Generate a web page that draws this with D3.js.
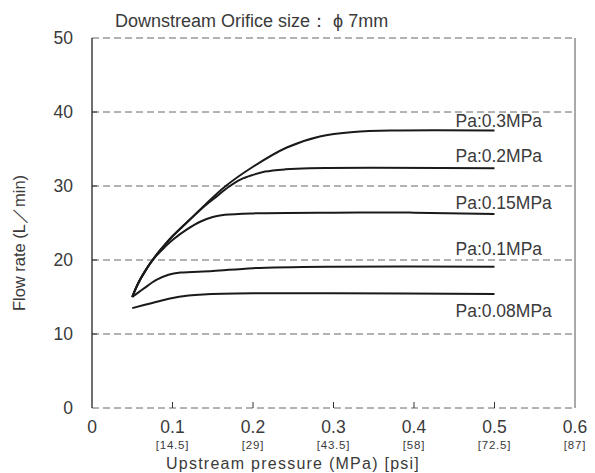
<!DOCTYPE html>
<html>
<head>
<meta charset="utf-8">
<script src="https://cdn.jsdelivr.net/npm/d3@7"></script>
<style>
  body { margin: 0; background: #fff; }
  svg text { font-family: "Liberation Sans", Arial, sans-serif; fill: #3a3a3a; }
</style>
</head>
<body>
<script>
const title = "Downstream Orifice size： ϕ 7mm";
const xTicks = [0, 0.1, 0.2, 0.3, 0.4, 0.5, 0.6];
const psiTicks = ["", "[14.5]", "[29]", "[43.5]", "[58]", "[72.5]", "[87]"];
const yTicks = [0, 10, 20, 30, 40, 50];

// upstream pressure (MPa) vs flow rate (L/min), one list per Pa
const pa030 = [[0.05, 15], [0.055, 16.3], [0.06, 17.4], [0.066, 18.5], [0.072, 19.5], [0.08, 20.7], [0.09, 22.0], [0.1, 23.2], [0.12, 25.3], [0.14, 27.4], [0.165, 29.9], [0.2, 32.6], [0.242, 35.2], [0.283, 36.7], [0.325, 37.3], [0.38, 37.5], [0.5, 37.5]];
const pa020 = [[0.05, 15], [0.055, 16.3], [0.06, 17.4], [0.066, 18.5], [0.072, 19.5], [0.08, 20.7], [0.09, 22.0], [0.1, 23.2], [0.12, 25.3], [0.14, 27.3], [0.155, 28.6], [0.17, 29.9], [0.185, 30.9], [0.2, 31.5], [0.215, 31.95], [0.24, 32.25], [0.27, 32.4], [0.5, 32.4]];
const pa015 = [[0.05, 15], [0.055, 16.3], [0.06, 17.4], [0.066, 18.5], [0.072, 19.5], [0.08, 20.6], [0.09, 21.7], [0.1, 22.7], [0.1175, 24.1], [0.135, 25.2], [0.15, 25.8], [0.165, 26.1], [0.2, 26.3], [0.3, 26.4], [0.4, 26.4], [0.5, 26.2]];
const pa010 = [[0.05, 15], [0.065, 16.2], [0.08, 17.3], [0.095, 18.0], [0.11, 18.3], [0.15, 18.5], [0.2, 18.9], [0.3, 19.1], [0.5, 19.1]];
const pa008 = [[0.05, 13.5], [0.075, 14.2], [0.097, 14.8], [0.12, 15.2], [0.138, 15.35], [0.2, 15.5], [0.3, 15.5], [0.5, 15.4]];
const seriesData = [pa030, pa020, pa015, pa010, pa008];
const seriesNames = ["Pa:0.3MPa", "Pa:0.2MPa", "Pa:0.15MPa", "Pa:0.1MPa", "Pa:0.08MPa"];
const labelY = [38.0, 33.2, 26.9, 20.7, 12.3];

const W = 595, H = 473;
const margin = { left: 92, right: 20, top: 38, bottom: 65 };

const svg = d3.select("body").append("svg")
    .attr("width", W)
    .attr("height", H);

const x = d3.scaleLinear().domain([0, 0.6]).range([margin.left, W - margin.right]);
const y = d3.scaleLinear().domain([0, 50]).range([H - margin.bottom, margin.top]);

// dashed grid lines
svg.append("g").selectAll("line")
    .data(yTicks)
    .join("line")
    .attr("x1", x(0))
    .attr("x2", x(0.6))
    .attr("y1", d => y(d))
    .attr("y2", d => y(d))
    .attr("stroke", "#666")
    .attr("stroke-width", 1)
    .attr("stroke-dasharray", "7,4");

// left and right borders
svg.append("line")
    .attr("x1", x(0)).attr("x2", x(0))
    .attr("y1", y(0)).attr("y2", y(50))
    .attr("stroke", "#222").attr("stroke-width", 1.3);
svg.append("line")
    .attr("x1", x(0.6)).attr("x2", x(0.6))
    .attr("y1", y(0)).attr("y2", y(50))
    .attr("stroke", "#555").attr("stroke-width", 1);

// small tick marks
svg.append("g").selectAll("line")
    .data(xTicks.slice(1, -1))
    .join("line")
    .attr("x1", d => x(d)).attr("x2", d => x(d))
    .attr("y1", y(0)).attr("y2", y(0) - 6)
    .attr("stroke", "#333").attr("stroke-width", 1);

svg.append("g").selectAll("line")
    .data(yTicks.slice(1, -1))
    .join("line")
    .attr("x1", x(0)).attr("x2", x(0) + 5)
    .attr("y1", d => y(d)).attr("y2", d => y(d))
    .attr("stroke", "#333").attr("stroke-width", 1);

// y tick labels
svg.append("g").selectAll("text")
    .data(yTicks)
    .join("text")
    .attr("x", x(0) - 19)
    .attr("y", d => y(d))
    .attr("dy", "0.36em")
    .attr("text-anchor", "end")
    .attr("font-size", 17.5)
    .text(d => d);

// x tick labels
svg.append("g").selectAll("text")
    .data(xTicks)
    .join("text")
    .attr("x", d => x(d))
    .attr("y", 433)
    .attr("text-anchor", "middle")
    .attr("font-size", 17.5)
    .text(d => d);

svg.append("g").selectAll("text")
    .data(xTicks)
    .join("text")
    .attr("x", d => x(d))
    .attr("y", 449)
    .attr("text-anchor", "middle")
    .attr("font-size", 11.5)
    .attr("letter-spacing", 0.8)
    .text((d, i) => psiTicks[i]);

// axis titles
svg.append("text")
    .attr("x", 293)
    .attr("y", 469)
    .attr("text-anchor", "middle")
    .attr("font-size", 16)
    .attr("letter-spacing", 1.25)
    .text("Upstream pressure (MPa)  [psi]");

svg.append("text")
    .attr("transform", `translate(25, 243) rotate(-90)`)
    .attr("text-anchor", "middle")
    .attr("font-size", 16.5)
    .text("Flow rate (L／min)");

svg.append("text")
    .attr("x", 115)
    .attr("y", 26.5)
    .attr("font-size", 18)
    .text(title);

// curves
const line = d3.line()
    .x(d => x(d[0]))
    .y(d => y(d[1]))
    .curve(d3.curveCatmullRom.alpha(0.5));

svg.append("g").selectAll("path")
    .data(seriesData)
    .join("path")
    .attr("d", d => line(d))
    .attr("fill", "none")
    .attr("stroke", "#1a1a1a")
    .attr("stroke-width", 2);

// series labels
svg.append("g").selectAll("text")
    .data(seriesNames)
    .join("text")
    .attr("x", 455.5)
    .attr("y", (d, i) => y(labelY[i]))
    .attr("font-size", 17.5)
    .text(d => d);
</script>
</body>
</html>
